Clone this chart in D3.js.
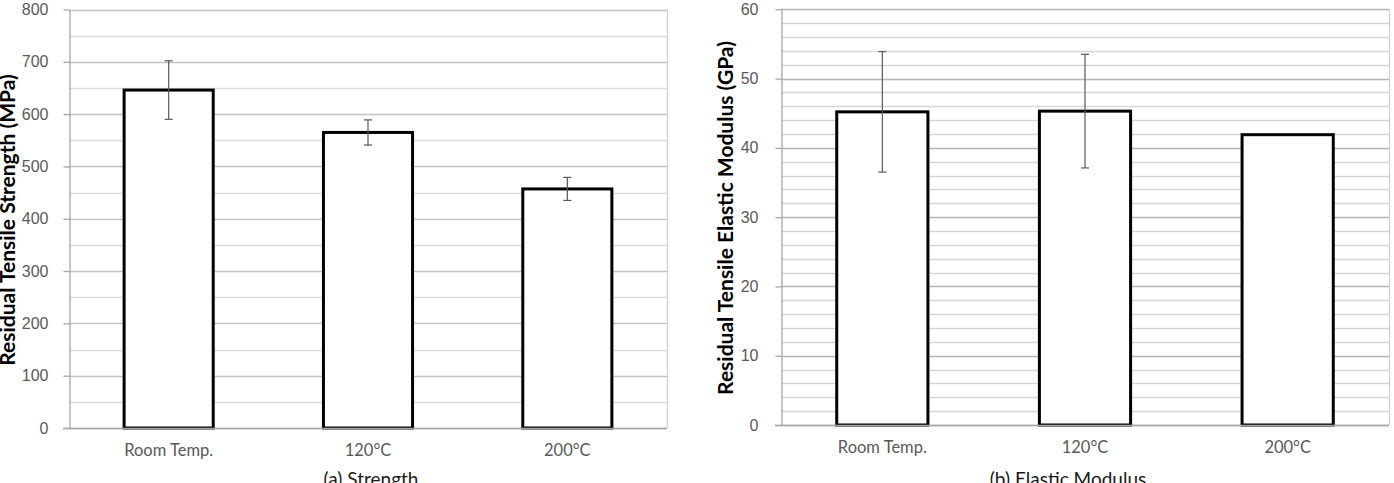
<!DOCTYPE html>
<html>
<head>
<meta charset="utf-8">
<script src="https://cdn.jsdelivr.net/npm/d3@7"></script>
<style>
	body { margin: 0; background: #fff; }
	svg { display: block; font-family: Lato, "Open Sans", sans-serif; }
	.tick_label { fill: #595959; font-size: 16px; }
	.cat_label { fill: #595959; font-size: 16.5px; }
	.axis_title { fill: #000; font-size: 21px; font-weight: bold; }
	.caption { fill: #1a1a1a; font-size: 19px; }
</style>
</head>
<body>
<svg id="chart" width="1394" height="483"></svg>
<script>

var categories = ["Room Temp.", "120°C", "200°C"]

// (a) strength, MPa
var strength = [646, 565, 457]
var strength_err = [56, 24, 22]

// (b) elastic modulus, GPa
var modulus = [45.2, 45.3, 41.9]
var modulus_err = [8.7, 8.2, 0]

var svg = d3.select("#chart")

function draw_panel(opts) {

	var x = d3.scaleBand()
		.domain(categories)
		.range([opts.left, opts.right])
		.paddingInner(opts.pad)
		.paddingOuter(opts.pad / 2)

	var y = d3.scaleLinear()
		.domain([0, opts.max])
		.range([opts.bottom, opts.top])

	var g = svg.append("g")

	// minor + major gridlines
	var minor = d3.range(0, opts.max + 0.001, opts.minor_step)
	g.selectAll(".grid")
		.data(minor)
		.enter()
		.append("line")
		.attr("x1", opts.left)
		.attr("x2", opts.right)
		.attr("y1", function(d) {return Math.round(y(d)) + 0.5})
		.attr("y2", function(d) {return Math.round(y(d)) + 0.5})
		.attr("stroke", function(d) {
			var is_major = Math.abs(d / opts.major_step - Math.round(d / opts.major_step)) < 1e-6
			return is_major ? opts.major_colour : opts.minor_colour
		})
		.attr("stroke-width", 1.3)

	// right border of plot
	g.append("line")
		.attr("x1", opts.right + 0.5).attr("x2", opts.right + 0.5)
		.attr("y1", y(opts.max)).attr("y2", opts.bottom)
		.attr("stroke", "#d0d0d0")
		.attr("stroke-width", 1.3)

	// y axis
	var y_axis = g.append("g")
		.attr("transform", "translate(" + (opts.left + 0.5) + ",0)")
		.call(d3.axisLeft(y)
			.tickValues(d3.range(0, opts.max + 0.001, opts.major_step))
			.tickSize(6)
			.tickSizeOuter(0)
			.tickPadding(opts.tick_pad))
	y_axis.select(".domain").attr("stroke", "#a6a6a6").attr("stroke-width", 1.3)
	y_axis.selectAll(".tick line").attr("stroke", "#a6a6a6").attr("stroke-width", 1.3)
	y_axis.selectAll(".tick text")
		.attr("class", "tick_label")
		.attr("font-family", null)
		.attr("font-size", null)
		.attr("fill", null)

	// bars
	var data = _zip(categories, opts.values, opts.errors)

	g.selectAll(".bar")
		.data(data)
		.enter()
		.append("rect")
		.attr("x", function(d) {return x(d[0])})
		.attr("y", function(d) {return y(d[1])})
		.attr("width", x.bandwidth())
		.attr("height", function(d) {return opts.bottom - y(d[1])})
		.attr("fill", "#fff")
		.attr("stroke", "#000")
		.attr("stroke-width", 3)

	// x axis line drawn over the bar bottoms
	g.append("line")
		.attr("x1", opts.left - 6).attr("x2", opts.right)
		.attr("y1", opts.bottom + 0.5).attr("y2", opts.bottom + 0.5)
		.attr("stroke", "#a6a6a6")
		.attr("stroke-width", 1.5)

	// error bars
	var err = g.selectAll(".err")
		.data(data.filter(function(d) {return d[2] > 0}))
		.enter()
		.append("g")
		.attr("stroke", "#595959")
		.attr("stroke-width", 1.2)

	err.append("line")
		.attr("x1", function(d) {return x(d[0]) + x.bandwidth() / 2})
		.attr("x2", function(d) {return x(d[0]) + x.bandwidth() / 2})
		.attr("y1", function(d) {return y(d[1] + d[2])})
		.attr("y2", function(d) {return y(d[1] - d[2])})

	err.selectAll(".cap")
		.data(function(d) {return [[d[0], d[1] + d[2]], [d[0], d[1] - d[2]]]})
		.enter()
		.append("line")
		.attr("x1", function(d) {return x(d[0]) + x.bandwidth() / 2 - 4})
		.attr("x2", function(d) {return x(d[0]) + x.bandwidth() / 2 + 4})
		.attr("y1", function(d) {return y(d[1])})
		.attr("y2", function(d) {return y(d[1])})

	// category labels
	g.selectAll(".cat")
		.data(categories)
		.enter()
		.append("text")
		.attr("class", "cat_label")
		.attr("x", function(d) {return x(d) + x.bandwidth() / 2})
		.attr("y", opts.bottom + 28)
		.attr("text-anchor", "middle")
		.text(function(d) {return d})

	// y axis title
	g.append("text")
		.attr("class", "axis_title")
		.attr("transform", "translate(" + opts.title_x + "," + opts.title_y + ") rotate(-90)")
		.attr("text-anchor", "middle")
		.text(opts.title)

	// caption under panel
	g.append("text")
		.attr("class", "caption")
		.attr("x", opts.caption_x)
		.attr("y", 486)
		.attr("text-anchor", "middle")
		.text(opts.caption)
}

function _zip(a, b, c) {
	return a.map(function(d, i) {return [d, b[i], c[i]]})
}

draw_panel({
	left: 69, right: 667, top: 9.5, bottom: 428,
	max: 800, major_step: 100, minor_step: 50, pad: 0.553,
	major_colour: "#c4c4c4", minor_colour: "#dedede",
	tick_pad: 15,
	values: strength, errors: strength_err,
	title: "Residual Tensile Strength (MPa)", title_x: 15, title_y: 220,
	caption: "(a) Strength", caption_x: 371
})

draw_panel({
	left: 781, right: 1389, top: 9.3, bottom: 425,
	max: 60, major_step: 10, minor_step: 2, pad: 0.55,
	major_colour: "#b4b4b4", minor_colour: "#d6d6d6",
	tick_pad: 17,
	values: modulus, errors: modulus_err,
	title: "Residual Tensile Elastic Modulus (GPa)", title_x: 733, title_y: 218,
	caption: "(b) Elastic Modulus", caption_x: 1068
})

</script>
</body>
</html>
